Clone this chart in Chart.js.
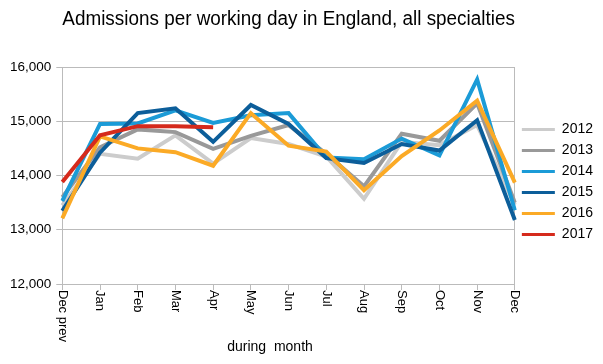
<!DOCTYPE html>
<html>
<head>
<meta charset="utf-8">
<script src="https://cdn.jsdelivr.net/npm/chart.js@4/dist/chart.umd.min.js"></script>
<style>
  body { margin: 0; background: #fff; }
  #wrap { width: 603px; height: 364px; }
</style>
</head>
<body>
<div id="wrap"><canvas id="c" width="603" height="364"></canvas></div>
<script>
// months on the x axis
const months = ["Dec prev", "Jan", "Feb", "Mar", "Apr", "May", "Jun", "Jul", "Aug", "Sep", "Oct", "Nov", "Dec"];

// admissions per working day
const y2012 = [13450, 14400, 14310, 14740, 14220, 14690, 14580, 14350, 13570, 14620, 14560, 14930, 13460];
const y2013 = [13600, 14520, 14850, 14800, 14490, 14730, 14930, 14400, 13800, 14770, 14640, 15330, 13500];
const y2014 = [13530, 14950, 14960, 15200, 14970, 15110, 15150, 14330, 14300, 14680, 14370, 15770, 13360];
const y2015 = [13350, 14420, 15150, 15240, 14620, 15300, 14950, 14320, 14230, 14580, 14460, 15020, 13180];
const y2016 = [13210, 14720, 14500, 14430, 14180, 15150, 14550, 14440, 13730, 14360, 14830, 15380, 13870];
const y2017 = [13880, 14740, 14910, 14910, 14890];

const years = ["2012", "2013", "2014", "2015", "2016", "2017"];
const colors = ["#cccccc", "#999999", "#1b9bd7", "#0c5e9a", "#fbaa26", "#d52a1c"];
const series = [y2012, y2013, y2014, y2015, y2016, y2017];

const FONT = "'Liberation Sans', Arial, sans-serif";

// x labels are rotated clockwise, so draw them by hand
const xLabels = {
  id: "xLabels",
  afterDraw(chart) {
    const ctx = chart.ctx;
    const sx = chart.scales.x;
    const top = chart.chartArea.bottom + 6;
    ctx.save();
    ctx.fillStyle = "#000";
    ctx.font = "13px " + FONT;
    ctx.textAlign = "left";
    ctx.textBaseline = "middle";
    months.forEach((m, i) => {
      ctx.save();
      ctx.translate(sx.getPixelForTick(i), top);
      ctx.rotate(Math.PI / 2);
      ctx.fillText(m, 0, 0);
      ctx.restore();
    });
    ctx.font = "14px " + FONT;
    ctx.textAlign = "center";
    ctx.fillText("during  month", 270, 347);
    ctx.restore();
  }
};

new Chart(document.getElementById("c"), {
  type: "line",
  data: {
    labels: months,
    datasets: years.map((y, i) => ({
      label: y,
      data: series[i],
      borderColor: colors[i],
      backgroundColor: colors[i],
      borderWidth: 4,
      pointRadius: 0,
      tension: 0,
      fill: false,
      order: years.length - i
    }))
  },
  options: {
    responsive: false,
    animation: false,
    layout: { padding: { left: 5, right: 0, top: 0, bottom: 0 } },
    plugins: {
      title: {
        display: true,
        fullSize: false,
        text: "Admissions per working day in England, all specialties",
        color: "#000",
        font: { family: FONT, size: 20, weight: "normal" },
        padding: { top: 7, bottom: 36 }
      },
      legend: {
        position: "right",
        labels: {
          color: "#000",
          font: { family: FONT, size: 14 },
          boxWidth: 33,
          boxHeight: 3,
          padding: 7,
          sort: (a, b) => a.datasetIndex - b.datasetIndex,
          generateLabels(chart) {
            return Chart.defaults.plugins.legend.labels.generateLabels(chart)
              .map(l => Object.assign(l, { lineWidth: 0 }));
          }
        }
      },
      tooltip: { enabled: false }
    },
    scales: {
      x: {
        offset: false,
        ticks: { display: false },
        afterFit: s => { s.height = 80; },
        border: { color: "#bbbbbb" },
        grid: {
          color: c => (c.index === months.length - 1 ? "#bbbbbb" : "rgba(0,0,0,0)"),
          tickColor: "#bbbbbb",
          tickLength: 6
        }
      },
      y: {
        min: 12000,
        max: 16000,
        ticks: {
          stepSize: 1000,
          padding: 5,
          color: "#000",
          font: { family: FONT, size: 13.5 },
          callback: v => v.toLocaleString("en-US")
        },
        border: { color: "#bbbbbb" },
        grid: { color: "#bbbbbb", tickColor: "#bbbbbb", tickLength: 6 }
      }
    }
  },
  plugins: [xLabels]
});
</script>
</body>
</html>
